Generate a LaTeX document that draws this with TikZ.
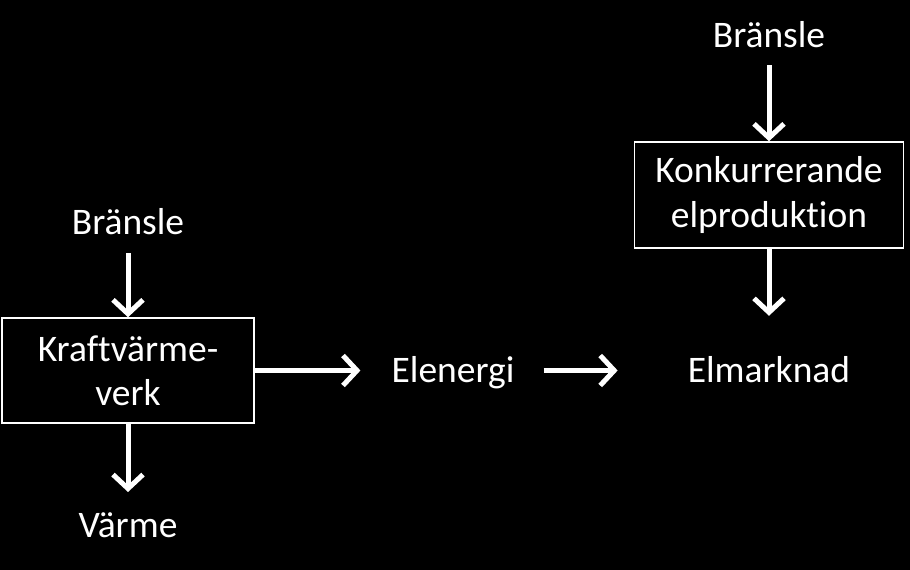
\documentclass[tikz,border=0pt]{standalone}
\usepackage{fontspec}
\setmainfont[Ligatures=NoCommon]{Carlito}
\usetikzlibrary{positioning, calc, arrows.meta}
\tikzset{plant/.style={draw=white, line width=1.5pt, fill=black, text=white, align=center, inner sep=0pt, font=\fontsize{37.5}{44}\selectfont}}
\tikzset{word/.style={text=white, inner sep=0pt, font=\fontsize{37.5}{44}\selectfont}}
\tikzset{flow/.style={draw=white, line width=5pt, -{Straight Barb[length=14pt, width=30pt]}}}

\begin{document}
\begin{tikzpicture}[x=1pt, y=-1pt]
      \useasboundingbox (0,0) rectangle (910,570);
      \fill[black] (0,0) rectangle (910,570);

      % left: kraftvarmeverk
      \node[plant, minimum width=252pt, minimum height=105pt] (chp) at (128,370.5) {Kraftvärme-\\verk};
      \node[word, anchor=base] (fuelA) at (128,234) {Bränsle};
      \node[word, anchor=base] (heat) at (128,537) {Värme};

      % middle and right
      \node[word, anchor=base] (elec) at (453,382) {Elenergi};
      \node[word, anchor=base] (market) at (769,382) {Elmarknad};
      \node[plant, minimum width=269pt, minimum height=106pt] (rival) at (769,195) {Konkurrerande\\elproduktion};
      \node[word, anchor=base] (fuelB) at (769,47) {Bränsle};

      \draw[flow, shorten <=19pt] (fuelA.south) -- (chp.north);
      \draw[flow, shorten >=20pt] (chp.south) -- (heat.north);
      \draw[flow, shorten >=31pt] (chp.east) -- (chp.east -| elec.west);
      \draw[flow, shorten <=29pt, shorten >=70pt] (elec.east |- chp.east) -- (chp.east -| market.west);
      \draw[flow, shorten <=18pt] (fuelB.south) -- (rival.north);
      \draw[flow, shorten >=40pt] (rival.south) -- (market.north);
\end{tikzpicture}
\end{document}
